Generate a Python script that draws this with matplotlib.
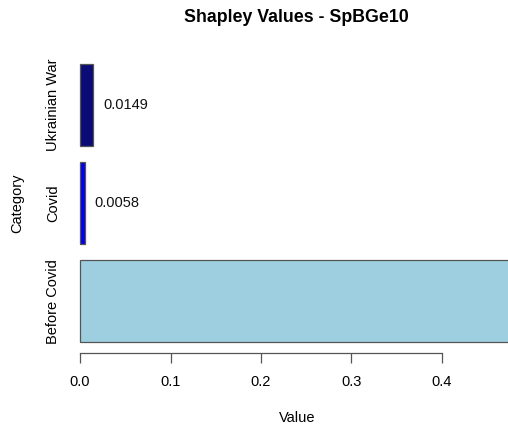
import matplotlib
matplotlib.use("Agg")
import matplotlib.pyplot as plt

categories = ["Before Covid", "Covid", "Ukrainian War"]
values = [0.9793, 0.0058, 0.0149]
colors = ["#9ECFE0", "#0000F2", "#0B0B78"]
xticks = [0.0, 0.1, 0.2, 0.3, 0.4]
title = "Shapley Values - SpBGe10"

plt.rcParams['font.family'] = ['Liberation Sans', 'DejaVu Sans']

W, H = 508, 430
fig = plt.figure(figsize=(W / 100, H / 100), dpi=100)

# pixel layout
px_left, px_right = 65, 465
px_top, px_bot = 50, 353
ax = fig.add_axes([px_left / W, 1 - px_bot / H, (px_right - px_left) / W, (px_bot - px_top) / H])

scale = 905.0  # px per unit
x0 = (px_left - 80) / scale
x1 = (px_right - 80) / scale
ax.set_xlim(x0, x1)
yunit = 81.67
ypos = [0.0, 1.2, 2.4]
ybot = -0.5 - 11 / yunit
ytop = 2.4 + 55 / yunit
ax.set_ylim(ybot, ytop)

ax.barh(ypos, values, height=1.0, color=colors, edgecolor="#555555", linewidth=0.9, clip_on=False)

for y, v in zip(ypos[1:], values[1:]):
    ax.text(v + 0.0105, y, f"{v:.4f}", ha="left", va="center", fontsize=10.5, color="#111111")

for s in ax.spines.values():
    s.set_visible(False)

# x axis line from first to last tick
ax.plot([xticks[0], xticks[-1]], [ybot, ybot], color="#555555", lw=0.9, clip_on=False)
ax.set_xticks(xticks)
ax.set_xticklabels([f"{t:.1f}" for t in xticks], fontsize=10.5)
ax.tick_params(axis="x", length=7, width=0.9, color="#555555", pad=9)

ax.set_yticks(ypos)
ax.set_yticklabels(categories, rotation=90, va="center", fontsize=10.5)
ax.tick_params(axis="y", length=0, pad=3.6)

fig.text(297 / W, 1 - 418 / H, "Value", ha="center", va="center", fontsize=10.5)
fig.text(17 / W, 1 - 203 / H, "Category", rotation=90, ha="center", va="center", fontsize=10.5)
fig.text(296 / W, 1 - 18 / H, title, ha="center", va="center", fontsize=12.8, fontweight="bold")

fig.savefig("out.png", dpi=100)
